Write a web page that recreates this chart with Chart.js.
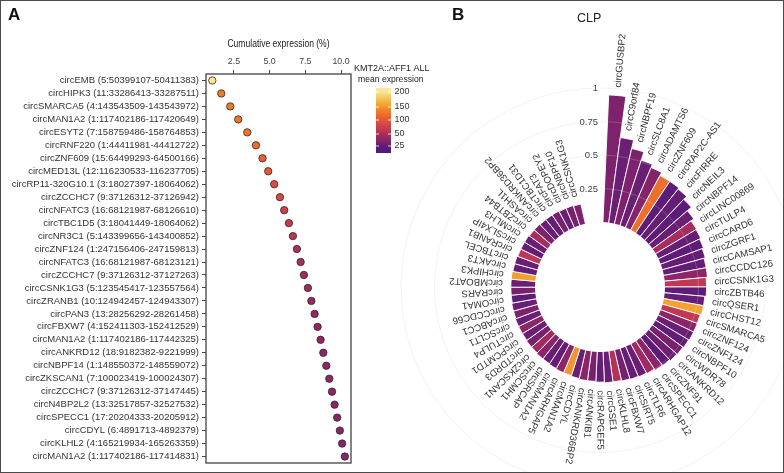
<!DOCTYPE html>
<html><head><meta charset="utf-8">
<script src="https://cdn.jsdelivr.net/npm/chart.js@4.4.1/dist/chart.umd.min.js"></script>
<style>
html,body{margin:0;padding:0;background:#fff;}
#wrap{position:relative;width:784px;height:473px;overflow:hidden;background:#fff;}
canvas{position:absolute;left:0;top:0;}
#frame{position:absolute;left:0;top:0;width:784px;height:473px;box-sizing:border-box;border:1.5px solid #4a4a4a;pointer-events:none;}
.lbl{position:absolute;font-family:"Liberation Sans",Arial,Helvetica,sans-serif;color:#111;}
</style></head><body>
<div id="wrap">
<canvas id="ca" width="784" height="473" style="width:784px;height:473px"></canvas>
<canvas id="cb" width="784" height="473" style="width:784px;height:473px"></canvas>
<div class="lbl" style="left:8px;top:5px;font-size:17px;font-weight:bold;">A</div>
<div class="lbl" style="left:452px;top:5px;font-size:17px;font-weight:bold;">B</div>
<div class="lbl" style="left:577px;top:11px;font-size:12.5px;color:#222;">CLP</div>
<div id="frame"></div>
</div>
<script>
// ---------- Panel A data ----------
const circA = [
"circEMB (5:50399107-50411383)","circHIPK3 (11:33286413-33287511)","circSMARCA5 (4:143543509-143543972)",
"circMAN1A2 (1:117402186-117420649)","circESYT2 (7:158759486-158764853)","circRNF220 (1:44411981-44412722)",
"circZNF609 (15:64499293-64500166)","circMED13L (12:116230533-116237705)","circRP11-320G10.1 (3:18027397-18064062)",
"circZCCHC7 (9:37126312-37126942)","circNFATC3 (16:68121987-68126610)","circTBC1D5 (3:18041449-18064062)",
"circNR3C1 (5:143399656-143400852)","circZNF124 (1:247156406-247159813)","circNFATC3 (16:68121987-68123121)",
"circZCCHC7 (9:37126312-37127263)","circCSNK1G3 (5:123545417-123557564)","circZRANB1 (10:124942457-124943307)",
"circPAN3 (13:28256292-28261458)","circFBXW7 (4:152411303-152412529)","circMAN1A2 (1:117402186-117442325)",
"circANKRD12 (18:9182382-9221999)","circNBPF14 (1:148550372-148559072)","circZKSCAN1 (7:100023419-100024307)",
"circZCCHC7 (9:37126312-37147445)","circN4BP2L2 (13:32517857-32527532)","circSPECC1 (17:20204333-20205912)",
"circCDYL (6:4891713-4892379)","circKLHL2 (4:165219934-165263359)","circMAN1A2 (1:117402186-117414831)"];
const cumExprA = [0.98,1.61,2.24,2.80,3.43,4.04,4.50,4.90,5.32,5.72,6.02,6.35,6.63,6.91,7.17,7.40,7.68,7.92,8.15,8.36,8.57,8.76,8.97,9.18,9.37,9.55,9.73,9.92,10.08,10.27];
const meanExprA = [200,132,130,128,126,120,108,103,93,85,76,68,61,54,50,47,45,43,41,40,39,39,38,38,38,37,37,37,36,36];
const xTicksA = [2.5,5.0,7.5,10.0];
const legendBreaks = [200,150,100,50,25];

// ---------- Panel B data ----------
const circB = ["circGUSBP2","circC9orf84","circNBPF19","circSLC8A1","circADAMTS6","circZNF609","circRAP2C-AS1","circFIRRE",
"circNEIL3","circNBPF14","circLINC00869","circTULP4","circCARD6","circZGRF1","circCAMSAP1","circCCDC126","circCSNK1G3",
"circZBTB46","circQSER1","circCHST12","circSMARCA5","circZNF124","circZNF124","circNBPF10","circWDR78","circANKRD12",
"circZNF91","circSPECC1","circARHGAP12","circTLR6","circSIRT5","circFBXW7","circKLHL8","circGSE1","circRAPGEF5",
"circANKIB1","circANKRD36BP2","circCDYL","circMAN1A2","circARHGAP5","circMAN1A2","circSRCAP","circSCMH1","circZKSCAN1",
"circTDRD3","circPCMTD1","circTULP4","circSCLT1","circABCC1","circCCDC66","circOMA1","circRARS","circMBOAT2","circHIPK3",
"circAKT3","circTBCEL","circRANB1","circSLX4IP","circMLH3","circZBTB44","circASH1L","circANKRD36BP2","circTBC1D31",
"circFAT3","circDOPEY2","circNBPF10","circCSNK1G3"];
const relB = [0.95,0.64,0.575,0.51,0.485,0.46,0.46,0.45,0.42,0.38,0.355,0.35,0.34,0.33,0.32,0.32,0.31,0.31,0.30,0.30,
0.29,0.29,0.29,0.285,0.28,0.275,0.265,0.26,0.25,0.245,0.24,0.235,0.23,0.23,0.225,0.22,0.22,0.215,0.21,0.21,
0.205,0.20,0.20,0.195,0.195,0.19,0.19,0.19,0.185,0.185,0.18,0.18,0.18,0.18,0.175,0.175,0.17,0.17,0.17,0.165,
0.165,0.16,0.16,0.16,0.155,0.155,0.15];
const exprB = [33,28,33,28,35,122,25,27,25,28,50,27,25,27,26,38,66,25,27,158,66,37,28,26,32,29,25,37,47,28,27,31,57,28,27,
32,37,28,150,38,27,28,37,47,32,28,38,28,33,28,25,32,28,155,27,28,64,27,28,50,33,28,27,32,28,32,33];
const rTicksB = [0.25,0.5,0.75,1];

// ---------- colour scale ----------
const FONT = '"Liberation Sans", Arial, Helvetica, sans-serif';
Chart.defaults.font.family = FONT;
const cStops = [[10,'#4a1a7a'],[25,'#5e1c78'],[35,'#86236a'],[45,'#9d2960'],[60,'#b93456'],[80,'#d4424a'],
[100,'#e3553a'],[120,'#ec6d2c'],[140,'#f08428'],[160,'#f4a630'],[200,'#f6e68e'],[230,'#f8f0a8']];
function hex(h){return [parseInt(h.substr(1,2),16),parseInt(h.substr(3,2),16),parseInt(h.substr(5,2),16)];}
function colorFor(v){
  if(v<=cStops[0][0]) return cStops[0][1];
  for(let i=1;i<cStops.length;i++){
    if(v<=cStops[i][0]){
      const t=(v-cStops[i-1][0])/(cStops[i][0]-cStops[i-1][0]);
      const a=hex(cStops[i-1][1]),b=hex(cStops[i][1]);
      return 'rgb('+a.map((x,k)=>Math.round(x+(b[k]-x)*t)).join(',')+')';
    }
  }
  return cStops[cStops.length-1][1];
}

// ---------- Panel A ----------
const boxA = {
  id:'boxA',
  beforeDatasetsDraw(chart){
    const {ctx,chartArea:a}=chart;
    ctx.save();ctx.strokeStyle='#333';ctx.lineWidth=1.2;
    ctx.strokeRect(a.left,a.top,a.right-a.left,a.bottom-a.top);ctx.restore();
  },
  afterDraw(chart){
    const ctx=chart.ctx,a=chart.chartArea;
    ctx.save();
    ctx.translate((a.left+a.right)/2,44);ctx.scale(0.83,1);
    ctx.font='10.3px '+FONT;ctx.fillStyle='#222';ctx.textAlign='center';ctx.textBaseline='middle';
    ctx.fillText('Cumulative expression (%)',0,0);
    ctx.restore();
    ctx.save();
    ctx.fillStyle='#222';ctx.textAlign='left';ctx.textBaseline='middle';
    ctx.font='9px '+FONT;ctx.fillText('KMT2A::AFF1 ALL',354,68.5);
    ctx.font='8.6px '+FONT;ctx.fillText('mean expression',358,80);
    const pos=[[213,88],[200,92],[150,107],[100,120],[50,134],[25,146],[10.4,153]];
    function valAt(y){for(let i=1;i<pos.length;i++){if(y<=pos[i][1]){const t=(y-pos[i-1][1])/(pos[i][1]-pos[i-1][1]);return pos[i-1][0]+(pos[i][0]-pos[i-1][0])*t;}}return pos[pos.length-1][0];}
    for(let y=88;y<153;y++){ctx.fillStyle=colorFor(valAt(y+0.5));ctx.fillRect(376,y,15,1);}
    ctx.strokeStyle='#fff';ctx.lineWidth=0.8;ctx.fillStyle='#333';ctx.font='9px '+FONT;
    legendBreaks.forEach(v=>{
      const p=pos.find(q=>q[0]===v);const y=p[1];
      ctx.beginPath();ctx.moveTo(376,y);ctx.lineTo(379,y);ctx.moveTo(388,y);ctx.lineTo(391,y);ctx.stroke();
      ctx.fillText(String(v),394.5,y);
    });
    ctx.restore();
  }
};
new Chart(document.getElementById('ca'),{
  type:'scatter',
  data:{datasets:[{data:circA.map((c,i)=>({x:cumExprA[i],y:i})),
    backgroundColor:meanExprA.map(colorFor),borderColor:'#2a2a2a',borderWidth:0.8,
    pointRadius:3.7,pointHoverRadius:3.7}]},
  options:{
    responsive:false,animation:false,events:[],
    layout:{padding:{left:0,right:433,top:0,bottom:10}},
    plugins:{legend:{display:false},tooltip:{enabled:false}},
    scales:{
      x:{type:'linear',position:'top',min:0.54,max:10.7,
        afterBuildTicks:s=>{s.ticks=xTicksA.map(v=>({value:v}));},
        afterFit:s=>{s.height=74;},
        ticks:{callback:v=>Number(v).toFixed(1),font:{size:8.8},color:'#444',padding:3,maxRotation:0,autoSkip:false},
        grid:{drawOnChartArea:false,drawTicks:true,tickLength:4,color:'#333',lineWidth:0.9},
        border:{display:false}},
      y:{type:'category',labels:circA,offset:true,
        afterFit:s=>{s.width=206;},
        ticks:{font:{size:9.5},color:'#333',padding:3,autoSkip:false},
        grid:{drawOnChartArea:false,drawTicks:true,tickLength:4,color:'#333',lineWidth:0.9,offset:false},
        border:{display:false}}
    }
  },
  plugins:[boxA]
});

// ---------- Panel B ----------
const centerB = {
  id:'centerB',
  afterLayout(chart){const r=chart.scales.r;r.xCenter=600;r.yCenter=287;r.drawingArea=199;}
};
const decoB = {
  id:'decoB',
  afterDatasetsDraw(chart){
    const ctx=chart.ctx,sc=chart.scales.r,meta=chart.getDatasetMeta(0);
    const cx=sc.xCenter,cy=sc.yCenter;
    ctx.save();
    ctx.strokeStyle='rgba(255,255,255,0.25)';ctx.lineWidth=0.8;
    rTicksB.forEach(v=>{ctx.beginPath();ctx.arc(cx,cy,sc.getDistanceFromCenterForValue(v),0,Math.PI*2);ctx.stroke();});
    ctx.fillStyle='#fff';ctx.beginPath();ctx.arc(cx,cy,sc.getDistanceFromCenterForValue(0),0,Math.PI*2);ctx.fill();
    ctx.font='9.6px '+FONT;ctx.fillStyle='#333';ctx.textAlign='left';ctx.textBaseline='middle';
    meta.data.forEach((arc,i)=>{
      const mid=(arc.startAngle+arc.endAngle)/2;
      ctx.save();ctx.translate(cx,cy);ctx.rotate(mid);
      ctx.fillText(circB[i],arc.outerRadius+8,0);ctx.restore();
    });
    ctx.font='9.5px '+FONT;ctx.textAlign='right';
    rTicksB.forEach(v=>{
      const y=cy-sc.getDistanceFromCenterForValue(v);
      const t=String(v);const w=ctx.measureText(t).width;
      ctx.fillStyle='#fff';ctx.fillRect(cx-2-w-1,y-5,w+3,10);
      ctx.fillStyle='#444';ctx.fillText(t,cx-2,y+0.5);
    });
    ctx.restore();
  }
};
new Chart(document.getElementById('cb'),{
  type:'polarArea',
  data:{labels:circB,datasets:[{data:relB,backgroundColor:exprB.map(colorFor),
    borderColor:'#ffffff',borderWidth:0.9,angle:5.14,clip:false}]},
  options:{
    responsive:false,animation:false,events:[],
    plugins:{legend:{display:false},tooltip:{enabled:false}},
    scales:{r:{min:-0.485,max:1,startAngle:2.6,
      afterBuildTicks:s=>{s.ticks=rTicksB.map(v=>({value:v}));},
      ticks:{display:false},
      grid:{circular:true,color:'#ececec',lineWidth:0.8},
      angleLines:{display:false},pointLabels:{display:false}}}
  },
  plugins:[centerB,decoB]
});
</script>
</body></html>
